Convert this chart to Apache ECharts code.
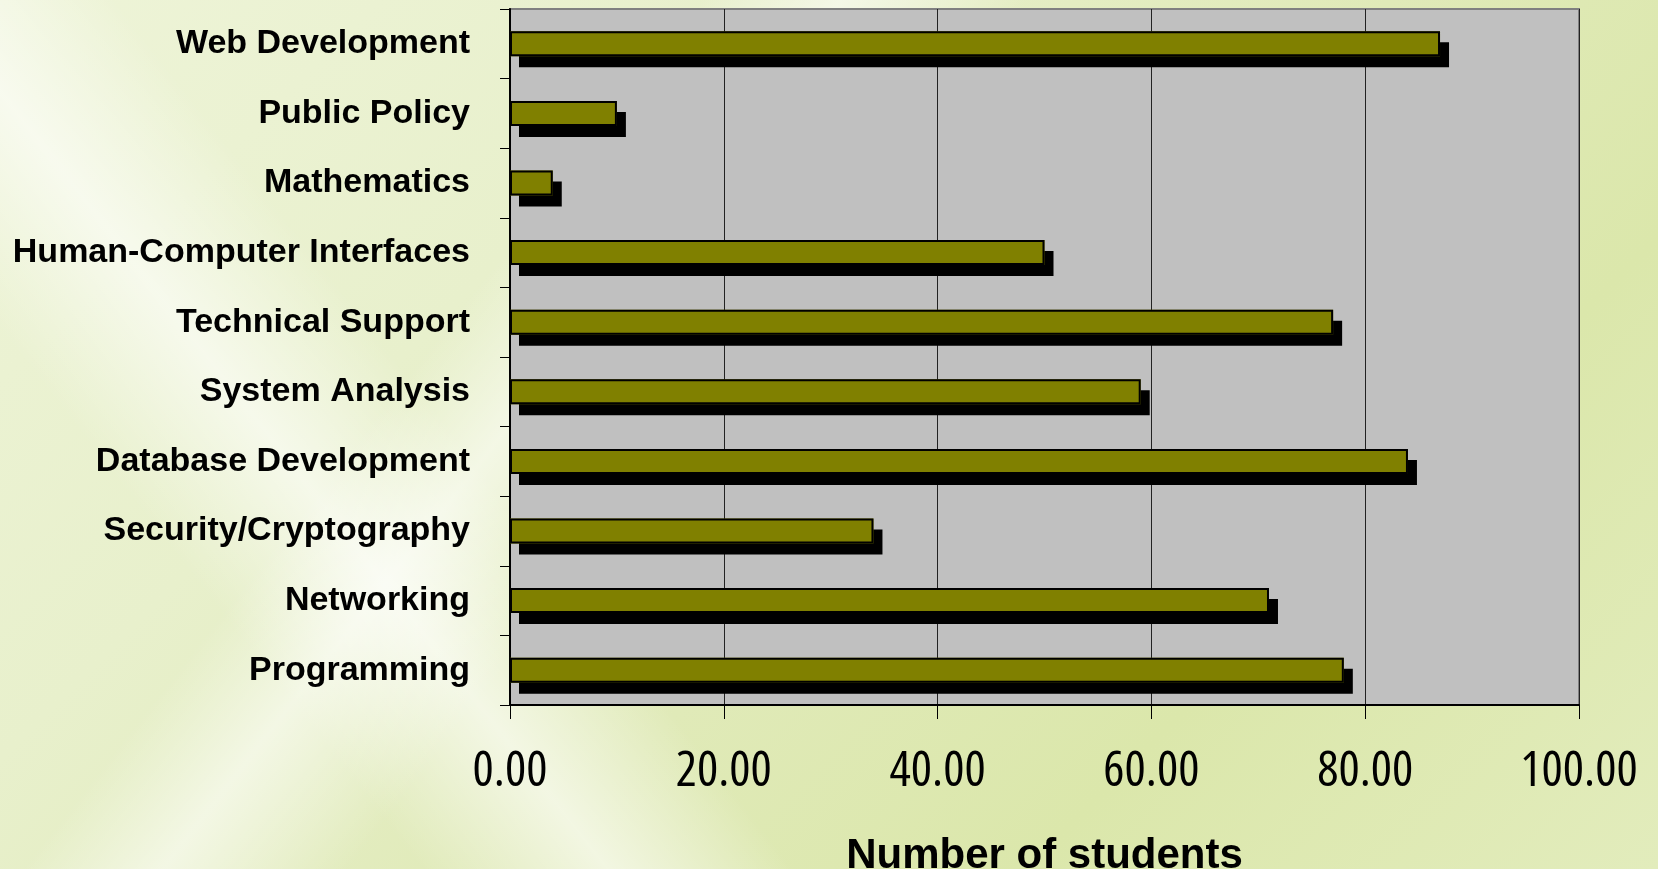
<!DOCTYPE html>
<html>
<head>
<meta charset="utf-8">
<script src="https://cdn.jsdelivr.net/npm/echarts@6/dist/echarts.min.js"></script>
<style>
html,body{margin:0;padding:0;width:1658px;height:869px;overflow:hidden;}
body{
  background:
    linear-gradient(128deg, rgba(255,255,255,0) 0%, rgba(255,255,255,0) 30%, rgba(255,255,255,0.55) 36%, rgba(255,255,255,0) 44%, rgba(255,255,255,0) 100%),
    linear-gradient(52deg, rgba(255,255,255,0) 0%, rgba(255,255,255,0) 18%, rgba(255,255,255,0.6) 26%, rgba(255,255,255,0) 34%, rgba(255,255,255,0) 100%),
    linear-gradient(135deg, #eef4d8 0%, #e8f0cc 30%, #e0eab8 55%, #dbe7ab 75%, #e2ecbc 100%);
}
#chart{width:1658px;height:869px;}
</style>
</head>
<body>
<div id="chart"></div>
<script>
const categories = ["Web Development","Public Policy","Mathematics","Human-Computer Interfaces","Technical Support","System Analysis","Database Development","Security/Cryptography","Networking","Programming"];
const students = [87, 10, 4, 50, 77, 59, 84, 34, 71, 78];
const xTicks = [0, 20, 40, 60, 80, 100];
const axisTitle = "Number of students";

const chart = echarts.init(document.getElementById('chart'), null, {renderer:'canvas'});
chart.setOption({
  backgroundColor: 'transparent',
  animation: false,
  grid: {
    left: 510, right: 79, top: 9, bottom: 164,
    containLabel: false, outerBoundsMode: 'none',
    show: true, backgroundColor: '#c0c0c0', borderColor: '#808080', borderWidth: 2
  },
  xAxis: {
    type: 'value',
    min: xTicks[0], max: xTicks[xTicks.length-1], interval: 20,
    axisLine: {show: true, lineStyle: {color: '#000', width: 2}},
    axisTick: {show: true, length: 14, lineStyle: {color: '#000', width: 1}},
    splitLine: {show: true, lineStyle: {color: '#222', width: 1}},
    axisLabel: {
      margin: 42, color: '#000',
      fontFamily: '"Open Sans", "Liberation Sans", sans-serif',
      fontWeight: 'normal condensed',
      fontSize: 50,
      formatter: v => v.toFixed(2)
    },
    name: axisTitle, nameLocation: 'middle', nameGap: 130, nameMoveOverlap: false,
    nameTextStyle: {
      color: '#000', fontWeight: 'bold', fontSize: 42,
      fontFamily: '"Liberation Sans", Arial, sans-serif'
    }
  },
  yAxis: {
    type: 'category', inverse: true, data: categories,
    axisLine: {show: true, lineStyle: {color: '#000', width: 2}},
    axisTick: {show: true, length: 10, lineStyle: {color: '#000', width: 1}},
    splitLine: {show: false},
    axisLabel: {
      margin: 40, color: '#000', fontWeight: 'bold', fontSize: 34,
      fontFamily: '"Liberation Sans", Arial, sans-serif'
    }
  },
  series: [{
    type: 'bar', data: students, barWidth: 25,
    itemStyle: {
      color: '#808000',
      shadowColor: '#000', shadowBlur: 0, shadowOffsetX: 9, shadowOffsetY: 11
    }
  }, {
    type: 'bar', data: students, barWidth: 25, barGap: '-100%',
    itemStyle: {color: 'rgba(0,0,0,0)', borderColor: '#000', borderWidth: 2}
  }]
});
</script>
</body>
</html>
